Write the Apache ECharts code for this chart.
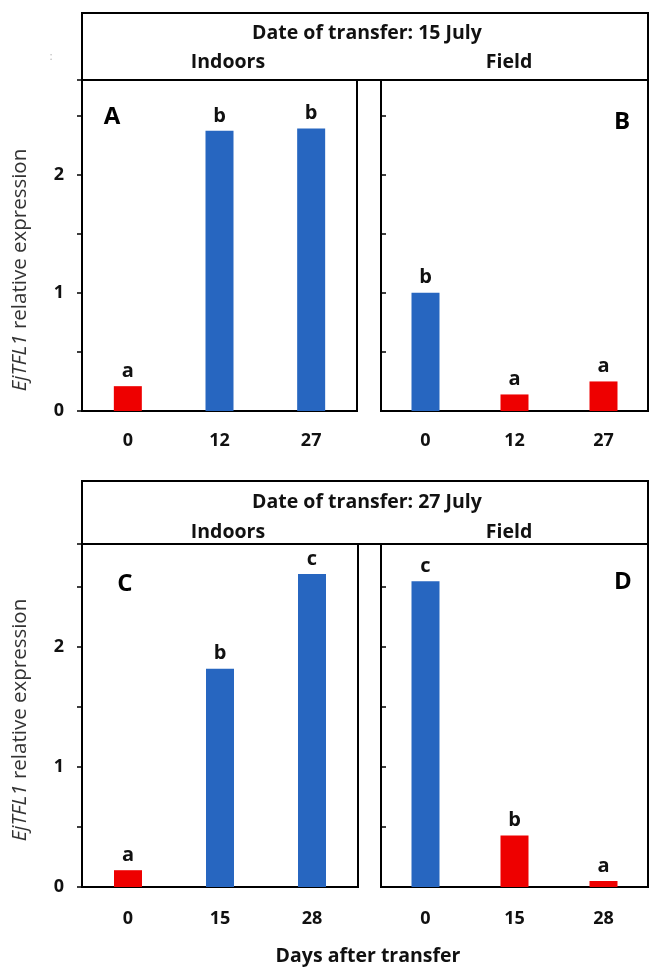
<!DOCTYPE html>
<html>
<head>
<meta charset="utf-8">
<script src="https://cdn.jsdelivr.net/npm/echarts@6/dist/echarts.min.js"></script>
<style>html,body{margin:0;padding:0;background:#fff}#c{width:651px;height:967px}</style>
</head>
<body>
<div id="c"></div>
<script>
// ---- data ----
const daysTop = ['0', '12', '27'];
const daysBottom = ['0', '15', '28'];
const valuesA = [0.21, 2.37, 2.39];
const valuesB = [1.00, 0.14, 0.25];
const valuesC = [0.14, 1.82, 2.61];
const valuesD = [2.55, 0.43, 0.05];
const lettersA = ['a', 'b', 'b'];
const lettersB = ['b', 'a', 'a'];
const lettersC = ['a', 'b', 'c'];
const lettersD = ['c', 'b', 'a'];
const yTicks = [0, 1, 2];
const headerTop = 'Date of transfer: 15 July';
const headerBottom = 'Date of transfer: 27 July';
const siteLeft = 'Indoors';
const siteRight = 'Field';
const xTitle = 'Days after transfer';

const FONT = '"Open Sans"';
const RED = '#EE0000';
const BLUE = '#2766C0';

const chart = echarts.init(document.getElementById('c'), null, {renderer: 'canvas'});

const grids = [
  {left: 82, top: 80, width: 275, height: 331},
  {left: 381, top: 80, width: 267, height: 331},
  {left: 82, top: 544, width: 276, height: 343},
  {left: 381, top: 544, width: 267, height: 343}
];
const panels = [
  {cats: daysTop, vals: valuesA, lets: lettersA, max: 2.8, left: true, indoors: true, xm: 21},
  {cats: daysTop, vals: valuesB, lets: lettersB, max: 2.8, left: false, indoors: false, xm: 21},
  {cats: daysBottom, vals: valuesC, lets: lettersC, max: 2.86, left: true, indoors: true, xm: 23},
  {cats: daysBottom, vals: valuesD, lets: lettersD, max: 2.86, left: false, indoors: false, xm: 23}
];

const hdr = (x, y, t) => ({type: 'text', x: x, y: y,
  style: {text: t, font: 'bold 19.5px ' + FONT, fill: '#111', align: 'center', verticalAlign: 'middle'}});
const pl = (x, y, t) => ({type: 'text', x: x, y: y,
  style: {text: t, font: 'bold 24px ' + FONT, fill: '#000', align: 'center', verticalAlign: 'middle'}});
const yt = (y) => ({type: 'text', x: 20, y: y, rotation: Math.PI / 2,
  style: {text: '{i|EjTFL1} relative expression', font: '20.5px ' + FONT, fill: '#333', align: 'center', verticalAlign: 'middle',
    rich: {i: {fontStyle: 'italic', fontFamily: 'Open Sans', fontSize: 20.5, fill: '#333'}}}});

const option = {
  animation: false,
  backgroundColor: '#fff',
  grid: grids.map(g => Object.assign({show: true, borderColor: '#000', borderWidth: 2, containLabel: false}, g)),
  xAxis: panels.map((p, i) => ({
    type: 'category', gridIndex: i, data: p.cats,
    axisLine: {show: true, lineStyle: {color: '#000', width: 2}},
    axisTick: {show: false},
    axisLabel: {color: '#111', fontFamily: 'Open Sans', fontWeight: 'bold', fontSize: 18, margin: p.xm}
  })),
  yAxis: panels.map((p, i) => ({
    type: 'value', gridIndex: i, min: 0, max: p.max, interval: 0.5,
    splitLine: {show: false},
    axisLine: {show: true, lineStyle: {color: '#000', width: 2}},
    axisTick: {show: true, inside: !p.left, length: 5, lineStyle: {color: '#000', width: 1.5}},
    axisLabel: {
      show: p.left, color: '#111', fontFamily: 'Open Sans', fontWeight: 'bold', fontSize: 18, margin: 18,
      formatter: v => (yTicks.indexOf(v) >= 0 ? String(v) : '')
    }
  })),
  series: panels.map((p, i) => ({
    type: 'bar', xAxisIndex: i, yAxisIndex: i, barWidth: 28,
    data: p.vals.map((v, j) => ({
      value: v,
      itemStyle: {color: ((j === 0) !== p.indoors) ? BLUE : RED}
    })),
    label: {
      show: true, position: 'top', distance: 5,
      fontFamily: 'Open Sans', fontWeight: 'bold', fontSize: 20, color: '#111',
      formatter: prm => p.lets[prm.dataIndex]
    }
  })),
  graphic: [
    {type: 'rect', shape: {x: 82, y: 13, width: 566, height: 67}, style: {fill: 'none', stroke: '#000', lineWidth: 2}},
    {type: 'rect', shape: {x: 82, y: 481, width: 566, height: 63}, style: {fill: 'none', stroke: '#000', lineWidth: 2}},
    hdr(367, 33, headerTop), hdr(228, 62, siteLeft), hdr(509, 62, siteRight),
    hdr(367, 502, headerBottom), hdr(228, 532, siteLeft), hdr(509, 532, siteRight),
    pl(112, 117, 'A'), pl(622, 122, 'B'), pl(125, 584, 'C'), pl(623, 582, 'D'),
    yt(270), yt(720),
    {type: 'text', x: 368, y: 956, style: {text: xTitle, font: 'bold 19.5px ' + FONT, fill: '#111', align: 'center', verticalAlign: 'middle'}},
    {type: 'text', x: 51, y: 57, style: {text: ':', font: '10px ' + FONT, fill: '#aaa', align: 'center', verticalAlign: 'middle'}}
  ]
};
chart.setOption(option);
</script>
</body>
</html>
